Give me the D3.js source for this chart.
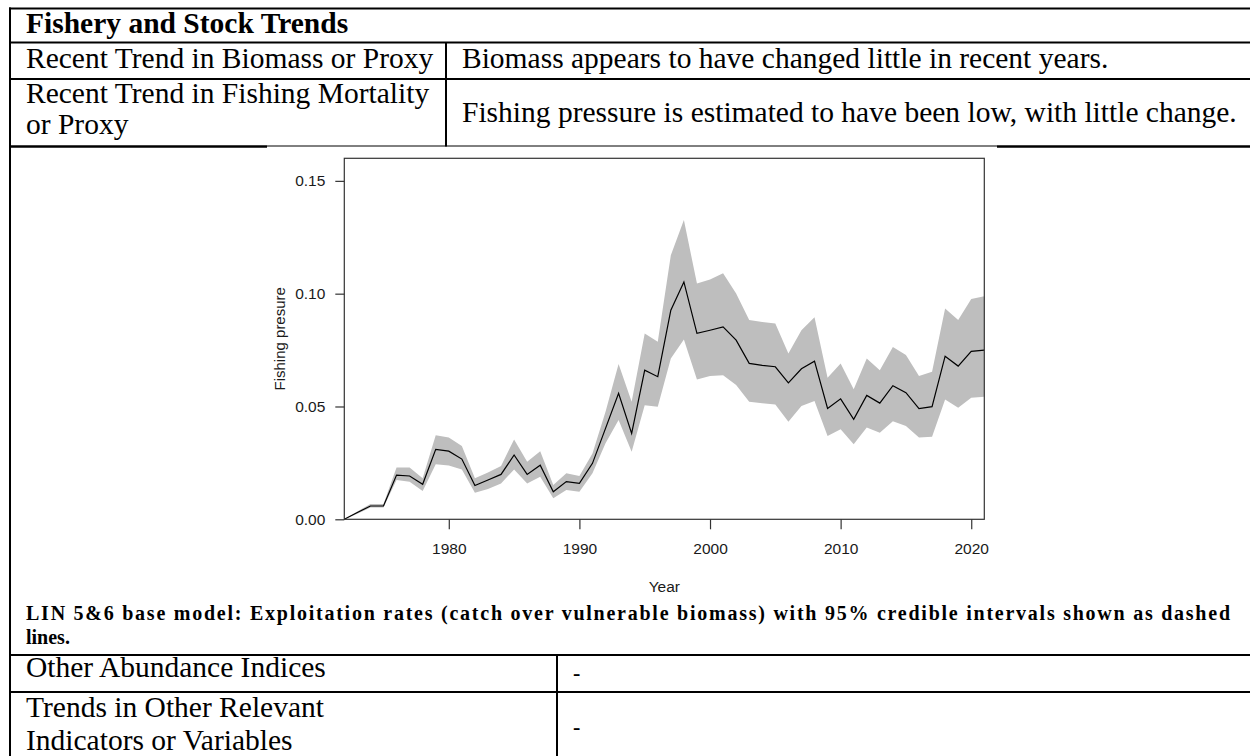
<!DOCTYPE html>
<html>
<head>
<meta charset="utf-8">
<script src="https://cdn.jsdelivr.net/npm/d3@7"></script>
<style>
  html, body { margin: 0; padding: 0; background: #fff; }
  svg { display: block; }
</style>
</head>
<body>
<svg id="chart" width="1250" height="756"></svg>
<script>
// ---- data ----
const years = d3.range(1972, 2022);
const estimate = [0, 0.003, 0.0059, 0.0059, 0.0196, 0.0192, 0.0155, 0.031, 0.0302, 0.0267,
  0.015, 0.0174, 0.0199, 0.0285, 0.0199, 0.024, 0.0122, 0.0167, 0.0159, 0.0248,
  0.0403, 0.0558, 0.0381, 0.0661, 0.0632, 0.0927, 0.1052, 0.0824, 0.0838, 0.0853,
  0.0794, 0.0691, 0.0682, 0.0676, 0.0605, 0.0667, 0.0701, 0.0491, 0.0534, 0.0443,
  0.0549, 0.0515, 0.0592, 0.0561, 0.0491, 0.0499, 0.0723, 0.0679, 0.0744, 0.075];
const lower = [0, 0.0025, 0.0052, 0.0052, 0.0174, 0.0166, 0.0125, 0.0244, 0.0238, 0.0221,
  0.0118, 0.0134, 0.0159, 0.0221, 0.0159, 0.0189, 0.0093, 0.013, 0.0122, 0.0204,
  0.0337, 0.044, 0.0299, 0.0506, 0.0499, 0.0713, 0.0797, 0.062, 0.0635, 0.0639,
  0.0595, 0.0521, 0.0514, 0.0509, 0.0432, 0.0502, 0.0524, 0.0369, 0.0399, 0.0333,
  0.0407, 0.0384, 0.0435, 0.0413, 0.0363, 0.0366, 0.0531, 0.0494, 0.0539, 0.0543];
const upper = [0, 0.0035, 0.0068, 0.0068, 0.023, 0.023, 0.0182, 0.0373, 0.0363, 0.0325,
  0.0182, 0.0207, 0.0236, 0.0354, 0.0255, 0.0302, 0.0152, 0.0204, 0.0192, 0.0292,
  0.0477, 0.0688, 0.0521, 0.0824, 0.0787, 0.117, 0.1326, 0.1045, 0.1063, 0.109,
  0.1001, 0.0883, 0.0874, 0.0868, 0.0735, 0.0838, 0.0895, 0.0627, 0.0691, 0.0576,
  0.0713, 0.0661, 0.0764, 0.0728, 0.0635, 0.0654, 0.0934, 0.0883, 0.0976, 0.0989];
const xTicks = [1980, 1990, 2000, 2010, 2020];
const yTicks = [0, 0.05, 0.10, 0.15];

const title = "Fishery and Stock Trends";
const rowLabels = [["Recent Trend in Biomass or Proxy"], ["Recent Trend in Fishing Mortality", "or Proxy"]];
const rowTexts = ["Biomass appears to have changed little in recent years.",
  "Fishing pressure is estimated to have been low, with little change."];
const xLabel = "Year";
const yLabel = "Fishing presure";
const caption1 = "LIN 5&6 base model: Exploitation rates (catch over vulnerable biomass) with 95% credible intervals shown as dashed";
const caption2 = "lines.";
const lowerLabels = [["Other Abundance Indices"], ["Trends in Other Relevant", "Indicators or Variables"]];
const lowerTexts = ["-", "-"];

// ---- layout ----
const svg = d3.select("#chart");
const serif = "'Liberation Serif', 'Times New Roman', serif";
const sans = "'Liberation Sans', Arial, sans-serif";
const L = 10, R = 1250;
const colX = 446, colX2 = 557;
const padX = 16;
const fs = 29.5;

function hline(y, x1, x2, w) {
  svg.append("line").attr("x1", x1).attr("x2", x2).attr("y1", y).attr("y2", y)
    .attr("stroke", "#000").attr("stroke-width", w);
}
function vline(x, y1, y2, w) {
  svg.append("line").attr("x1", x).attr("x2", x).attr("y1", y1).attr("y2", y2)
    .attr("stroke", "#000").attr("stroke-width", w);
}
function txt(s, x, y, opts) {
  const t = svg.append("text").attr("x", x).attr("y", y).text(s)
    .attr("font-family", opts.family || serif)
    .attr("font-size", opts.size || fs)
    .attr("font-weight", opts.weight || "normal")
    .attr("fill", opts.fill || "#000");
  if (opts.anchor) t.attr("text-anchor", opts.anchor);
  return t;
}

// table lines (top)
hline(8.5, L - 1, R, 2);
hline(42.5, L - 1, R, 2);
hline(79, L - 1, R, 2);
hline(146.5, L - 1, 267, 2.5);
hline(146, 267, 997, 1);
hline(146.5, 997, R, 2.5);
vline(L, 7.5, 756, 2);
vline(colX, 42.5, 146.5, 2);

txt(title, L + padX, 33, {weight: "bold"});
txt(rowLabels[0][0], L + padX, 68, {});
txt(rowLabels[1][0], L + padX, 103, {});
txt(rowLabels[1][1], L + padX, 134, {});
txt(rowTexts[0], colX + padX, 68, {});
txt(rowTexts[1], colX + padX, 122, {});

// ---- chart ----
const x = d3.scaleLinear().domain([1972, 2021]).range([344.3, 984.3]);
const y = d3.scaleLinear().domain([0, 0.16]).range([519.3, 158.3]);
const plot = svg.append("g");

const band = d3.area()
  .x((d, i) => x(years[i]))
  .y0((d, i) => y(lower[i]))
  .y1((d, i) => y(upper[i]));
plot.append("path").datum(years).attr("d", band).attr("fill", "#bebebe");

const line = d3.line().x((d, i) => x(years[i])).y((d, i) => y(estimate[i]));
plot.append("path").datum(estimate).attr("d", line)
  .attr("fill", "none").attr("stroke", "#000").attr("stroke-width", 1.2);

plot.append("rect").attr("x", x.range()[0]).attr("y", y.range()[1])
  .attr("width", x.range()[1] - x.range()[0]).attr("height", y.range()[0] - y.range()[1])
  .attr("fill", "none").attr("stroke", "#333").attr("stroke-width", 1.2);

const xAxis = plot.append("g").attr("transform", `translate(0,${y.range()[0]})`)
  .call(d3.axisBottom(x).tickValues(xTicks).tickFormat(d3.format("d")).tickSize(10).tickPadding(14));
const yAxis = plot.append("g").attr("transform", `translate(${x.range()[0]},0)`)
  .call(d3.axisLeft(y).tickValues(yTicks).tickFormat(d3.format(".2f")).tickSize(9).tickPadding(10));
[xAxis, yAxis].forEach(a => {
  a.select(".domain").remove();
  a.selectAll("line").attr("stroke", "#333").attr("stroke-width", 1.2);
  a.selectAll("text").attr("font-family", sans).attr("font-size", 15.5).attr("fill", "#1a1a1a");
});

txt(xLabel, (x.range()[0] + x.range()[1]) / 2, 592, {family: sans, size: 15.5, anchor: "middle", fill: "#1a1a1a"});
svg.append("text").attr("transform", `translate(285,${(y.range()[0] + y.range()[1]) / 2}) rotate(-90)`)
  .attr("text-anchor", "middle").attr("font-family", sans).attr("font-size", 15)
  .attr("fill", "#1a1a1a").text(yLabel);

// ---- caption ----
txt(caption1, L + padX, 620, {weight: "bold", size: 20})
  .attr("textLength", 1204).attr("lengthAdjust", "spacing");
txt(caption2, L + padX, 644, {weight: "bold", size: 20});

// ---- lower rows ----
hline(655, L - 1, R, 2);
hline(692, L - 1, R, 2);
vline(colX2, 655, 756, 2);
txt(lowerLabels[0][0], L + padX, 677, {});
txt(lowerTexts[0], colX2 + padX, 680, {weight: "bold", size: 22});
txt(lowerLabels[1][0], L + padX, 717, {});
txt(lowerLabels[1][1], L + padX, 750, {});
txt(lowerTexts[1], colX2 + padX, 734, {weight: "bold", size: 22});
</script>
</body>
</html>
